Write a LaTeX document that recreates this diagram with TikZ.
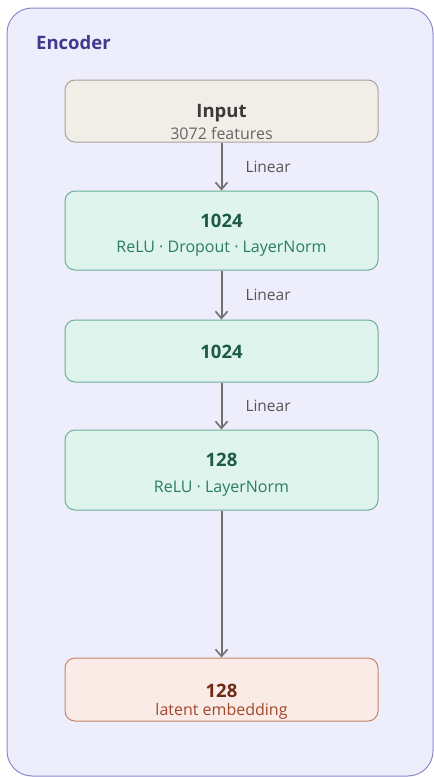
\documentclass[tikz,border=0pt]{standalone}
\usepackage{fontspec}
\setmainfont{Open Sans}
\usetikzlibrary{arrows.meta}
\definecolor{frameFill}{HTML}{EEEDFB}
\definecolor{frameLine}{HTML}{8E89C9}
\definecolor{titleCol}{HTML}{3F3A8C}
\definecolor{inFill}{HTML}{F1EEE7}
\definecolor{inLine}{HTML}{A8A39A}
\definecolor{inText}{HTML}{3A3A3A}
\definecolor{inSub}{HTML}{666666}
\definecolor{grFill}{HTML}{DFF4EC}
\definecolor{grLine}{HTML}{6DAE97}
\definecolor{grText}{HTML}{1E5A47}
\definecolor{grSub}{HTML}{2A7D62}
\definecolor{orFill}{HTML}{FBEBE6}
\definecolor{orLine}{HTML}{C9826B}
\definecolor{orText}{HTML}{6F2A17}
\definecolor{orSub}{HTML}{A2472C}
\definecolor{arrCol}{HTML}{707070}
\definecolor{lblCol}{HTML}{555555}
\tikzset{
  boxbase/.style={rectangle, rounded corners=10pt, minimum width=313pt, inner sep=0pt, line width=1pt},
  inbox/.style={boxbase, draw=inLine, fill=inFill},
  grbox/.style={boxbase, draw=grLine, fill=grFill},
  orbox/.style={boxbase, draw=orLine, fill=orFill},
  headtxt/.style={font=\fontsize{18.5}{21}\selectfont\bfseries, inner sep=0pt},
  subtxt/.style={font=\fontsize{16}{19}\selectfont, inner sep=0pt},
  arr/.style={draw=arrCol, line width=2pt, -{Straight Barb[length=7pt, width=12pt, line width=1.6pt]}},
  lbl/.style={font=\fontsize{15.5}{18}\selectfont, text=lblCol, anchor=west, xshift=23pt, inner sep=0pt}
}
\begin{document}
\begin{tikzpicture}[x=1pt,y=-1pt]
\useasboundingbox (0,0) rectangle (434,777);
\draw[draw=frameLine, fill=frameFill, line width=1pt, rounded corners=25pt] (7,8) rectangle (433,776);
\node[anchor=west, inner sep=0pt, text=titleCol, font=\fontsize{18.5}{21}\selectfont\bfseries] (title) at (36,43) {Encoder};

\node[inbox, minimum height=62pt] (in) at (221.5,111) {};
\node[headtxt, text=inText] (inH) at (221.5,113) {Input};
\node[subtxt, text=inSub] (inS) at (221.5,133) {3072 features};

\node[grbox, minimum height=79pt] (l1) at (221.5,230.5) {};
\node[headtxt, text=grText] (l1H) at (221.5,221) {1024};
\node[subtxt, text=grSub] (l1S) at (221.5,249) {ReLU · Dropout · LayerNorm};

\node[grbox, minimum height=62pt] (l2) at (221.5,351) {};
\node[headtxt, text=grText] (l2H) at (221.5,352) {1024};

\node[grbox, minimum height=80pt] (l3) at (221.5,470) {};
\node[headtxt, text=grText] (l3H) at (221.5,460) {128};
\node[subtxt, text=grSub] (l3S) at (221.5,489) {ReLU · LayerNorm};

\node[orbox, minimum height=63pt] (out) at (221.5,689.5) {};
\node[headtxt, text=orText] (outH) at (221.5,691) {128};
\node[subtxt, text=orSub] (outS) at (221.5,711) {latent embedding};

\draw[arr] (in.south) -- node[lbl] {Linear} (l1.north);
\draw[arr] (l1.south) -- node[lbl] {Linear} (l2.north);
\draw[arr] (l2.south) -- node[lbl] {Linear} (l3.north);
\draw[arr] (l3.south) -- (out.north);
\end{tikzpicture}
\end{document}
